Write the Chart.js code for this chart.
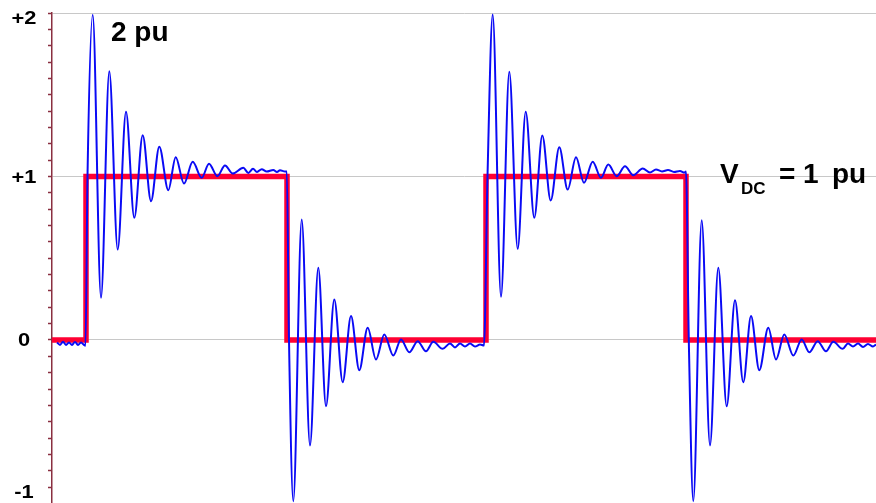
<!DOCTYPE html>
<html><head><meta charset="utf-8">
<script src="https://cdn.jsdelivr.net/npm/chart.js@4/dist/chart.umd.min.js"></script>
<style>html,body{margin:0;padding:0;background:#fff;overflow:hidden}#wrap{width:876px;height:503px;position:relative}</style>
</head><body><div id="wrap"><canvas id="c" width="876" height="503"></canvas></div>
<script>
// time axis (arbitrary units) and applied square-wave voltage (pu)
const squareT = [0, 17, 17, 117.5, 117.5, 217, 217, 317, 317, 412];
const squareV = [0, 0, 1, 1, 0, 0, 1, 1, 0, 0];

// measured voltage with ringing (pu)
const respT = [2.5,4,5.5,7,8.5,10,11.5,13,14.5,16,16.75,
  17.75,20.35,24.5,28.65,32.85,37,41.15,45.35,49.5,53.65,58.15,61.85,66,70.35,74.85,78.5,82.65,86.5,90.35,
  95.65,98.15,100.5,102.5,104.85,107.35,110.65,112.5,114,116.5,117.4,
  118.5,120.65,124.85,129,133.15,137,141.15,145.35,149.5,153.65,157.85,162,166.15,170.65,174.5,178.65,182.85,187,190.65,195.35,
  199,201.5,204,206.5,209,211.5,214,216,
  217.75,220.35,224.5,228.65,232.85,236.85,241.15,245.15,249.35,253.65,257.85,262,266,270.35,274.5,278.15,282.35,286.5,290.65,295.35,
  299,302,305,308,311,314,316.25,317,
  318.4,320.65,324.85,329,333.15,337.35,341.5,345.65,349.5,353.65,358.15,362,366.15,370.65,374.85,378.65,382.85,387,390.65,395.35,
  398,400.5,403,405.5,408,410.5,412];
const respV = [-0.015,-0.03,-0.01,-0.03,-0.015,-0.03,-0.012,-0.03,-0.015,-0.03,-0.035,
  1.0,1.99,0.258,1.644,0.553,1.396,0.747,1.253,0.849,1.182,0.916,1.118,0.957,1.090,0.992,1.078,1.002,1.067,1.018,
  1.053,1.022,1.047,1.028,1.045,1.030,1.040,1.028,1.038,1.030,1.03,
  0,-0.986,0.737,-0.645,0.442,-0.405,0.248,-0.258,0.146,-0.185,0.075,-0.119,0.034,-0.095,0.003,-0.075,-0.007,-0.069,-0.011,-0.054,
  -0.021,-0.046,-0.021,-0.04,-0.021,-0.04,-0.028,-0.034,
  1.0,1.991,0.264,1.640,0.558,1.396,0.747,1.251,0.853,1.179,0.920,1.118,0.961,1.090,0.992,1.073,1.002,1.063,1.008,1.049,
  1.024,1.043,1.031,1.040,1.028,1.034,1.024,1.03,
  0,-0.986,0.733,-0.645,0.442,-0.405,0.243,-0.258,0.146,-0.185,0.075,-0.119,0.034,-0.095,0.003,-0.075,-0.007,-0.069,-0.011,-0.054,
  -0.021,-0.04,-0.021,-0.043,-0.024,-0.04,-0.028];

// y-axis tick labels
const yTickValues = [2, 1, 0, -1];
const yTickLabels = ['+2', '+1', '0', '-1'];

// annotations
const peakLabel = '2 pu';
const dcLabelMain = 'V';
const dcLabelSub = 'DC';
const dcLabelRest = ['=', '1', 'pu'];

const FONT = '"Liberation Sans", Arial, Helvetica, sans-serif';

const labelsPlugin = {
  id: 'labels',
  afterDraw(chart) {
    const ctx = chart.ctx;
    const ys = chart.scales.y;
    ctx.save();
    ctx.fillStyle = '#000';
    ctx.font = 'bold 19px ' + FONT;
    ctx.textAlign = 'center';
    ctx.textBaseline = 'middle';
    yTickValues.forEach((v, i) => {
      let py = ys.getPixelForValue(v);
      py = Math.min(Math.max(py, 18), 492);
      ctx.save();
      ctx.translate(24, py + 1);
      ctx.scale(1.15, 1);
      ctx.fillText(yTickLabels[i], 0, 0);
      ctx.restore();
    });
    ctx.textAlign = 'left';
    ctx.textBaseline = 'alphabetic';
    ctx.font = 'bold 28px ' + FONT;
    ctx.fillText(peakLabel, 111, 41);
    ctx.fillText(dcLabelMain, 720, 183);
    ctx.fillText(dcLabelRest[0], 779, 183);
    ctx.fillText(dcLabelRest[1], 803, 183);
    ctx.fillText(dcLabelRest[2], 832, 183);
    ctx.font = 'bold 17px ' + FONT;
    ctx.fillText(dcLabelSub, 741, 194);
    ctx.restore();
  }
};

new Chart(document.getElementById('c'), {
  type: 'line',
  data: {
    datasets: [
      {
        label: 'measured',
        data: respT.map((t, i) => ({x: t, y: respV[i]})),
        borderColor: '#0a0af5',
        borderWidth: 2,
        pointRadius: 0,
        cubicInterpolationMode: 'monotone',
        fill: false,
        order: 0
      },
      {
        label: 'applied',
        data: squareT.map((t, i) => ({x: t, y: squareV[i]})),
        borderColor: '#ff0033',
        borderWidth: 5.5,
        pointRadius: 0,
        tension: 0,
        borderJoinStyle: 'miter',
        fill: false,
        order: 1
      }
    ]
  },
  options: {
    responsive: false,
    devicePixelRatio: 1,
    animation: false,
    layout: {padding: {top: 13, right: 0, bottom: 0, left: 0}},
    plugins: {legend: {display: false}, tooltip: {enabled: false}},
    scales: {
      x: {type: 'linear', min: 0, max: 412, display: false},
      y: {
        type: 'linear', min: -0.997, max: 2,
        afterBuildTicks: s => {
          const t = [];
          for (let i = -9; i <= 20; i++) t.push({value: i / 10});
          s.ticks = t;
        },
        afterFit: s => { s.width = 52; },
        ticks: {display: false},
        grid: {
          color: c => (c.tick && Math.abs(c.tick.value - Math.round(c.tick.value)) < 1e-6) ? '#c8c8c8' : 'rgba(0,0,0,0)',
          lineWidth: 1,
          drawTicks: true,
          tickLength: 4,
          tickColor: '#8a2f40',
          tickWidth: 1.5
        },
        border: {display: true, color: '#8a2f40', width: 1.5}
      }
    }
  },
  plugins: [labelsPlugin]
});
</script>
</body></html>
